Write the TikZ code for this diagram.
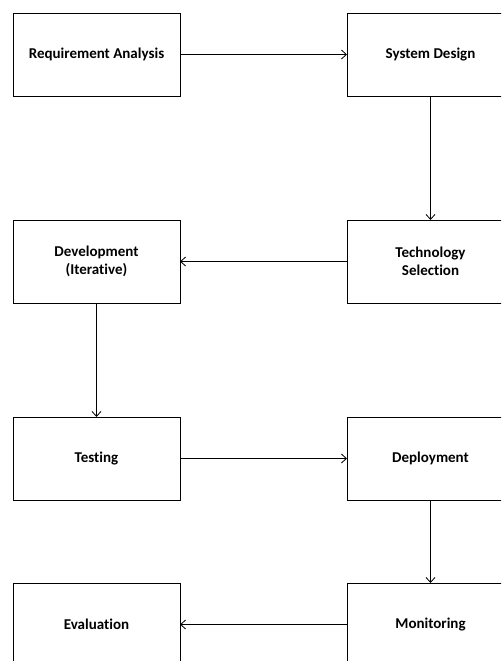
\documentclass[tikz,border=0pt]{standalone}
\usepackage{fontspec}
\setmainfont{Carlito}[Ligatures=CommonOff]
\usepackage{tikz}
\usetikzlibrary{positioning}
\usetikzlibrary{arrows.meta}

\begin{document}
\begin{tikzpicture}[
    x=1pt, y=1pt,
    node distance=167pt and 167pt,
    stage/.style={draw,line width=0.8pt,minimum width=167pt,minimum height=83pt,
      outer sep=0pt,align=center,font=\fontsize{15}{18}\selectfont\bfseries},
    flow/.style={line width=0.8pt,-{Straight Barb[length=5pt,width=9pt]}}
    ]

    \useasboundingbox (0,0) rectangle (501,-661);
    \clip (0,0) rectangle (501,-661);

    \node[stage] at (96.5,-54.5) (req) {Requirement Analysis};
    \node[stage, right=of req] (design) {System Design};

    \node[stage, below=124pt of design] (tech) {Technology\\Selection};
    \node[stage, left=of tech] (dev) {Development\\(Iterative)};

    \node[stage, below=114pt of dev] (test) {Testing};
    \node[stage, right=of test] (deploy) {Deployment};

    \node[stage, below=83pt of deploy] (monitor) {Monitoring};
    \node[stage, left=of monitor] (eval) {Evaluation};


    \path (req) edge[flow] (design)
    (design) edge[flow] (tech)
    (tech) edge[flow] (dev)
    (dev) edge[flow] (test)
    (test) edge[flow] (deploy)
    (deploy) edge[flow] (monitor)
    (monitor) edge[flow] (eval)
    ;

  \end{tikzpicture}
\end{document}
